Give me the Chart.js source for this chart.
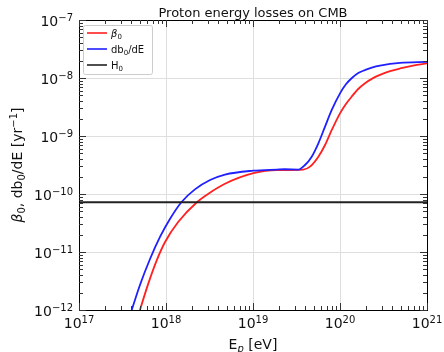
<!DOCTYPE html>
<html>
<head>
<meta charset="utf-8">
<script src="https://cdn.jsdelivr.net/npm/chart.js@4.4.1/dist/chart.umd.min.js"></script>
<style>
  html, body { margin: 0; padding: 0; background: #fff; }
  #wrap { width: 444px; height: 352px; }
</style>
</head>
<body>
<div id="wrap"><canvas id="chartLosses"></canvas></div>
<script>
// values (log-log)
const ENERGY_BETA0 = [4.29e17, 5.02e17, 6.27e17, 7.82e17, 9.75e17, 1.38e18, 2.25e18, 3.35e18, 4.76e18, 1.01e19, 1.87e19, 2.33e19, 3.78e19, 4.52e19, 5.64e19, 6.73e19, 8.04e19, 1.0e20, 1.17e20, 1.36e20, 1.62e20, 1.94e20, 2.37e20, 2.88e20, 3.76e20, 4.9e20, 6.9e20, 1.0e21];
const BETA0 = [4.52e-13, 1.0e-12, 2.88e-12, 7.19e-12, 1.49e-11, 3.29e-11, 7.13e-11, 1.10e-10, 1.50e-10, 2.28e-10, 2.59e-10, 2.59e-10, 2.64e-10, 2.96e-10, 4.4e-10, 7.0e-10, 1.27e-9, 2.46e-9, 3.56e-9, 4.76e-9, 6.46e-9, 8.11e-9, 9.84e-9, 1.13e-8, 1.31e-8, 1.46e-8, 1.64e-8, 1.79e-8];

const ENERGY_DB0 = [3.38e17, 4.04e17, 5.02e17, 6.55e17, 8.53e17, 1.11e18, 1.51e18, 2.15e18, 3.21e18, 4.76e18, 1.0e19, 1.89e19, 2.33e19, 3.32e19, 3.96e19, 4.73e19, 5.64e19, 6.73e19, 8.04e19, 1.0e20, 1.17e20, 1.36e20, 1.62e20, 1.94e20, 2.37e20, 2.88e20, 4.9e20, 1.0e21];
const DB0_DE = [4.35e-13, 1.0e-12, 2.70e-12, 7.57e-12, 1.82e-11, 3.71e-11, 7.28e-11, 1.20e-10, 1.74e-10, 2.16e-10, 2.52e-10, 2.64e-10, 2.67e-10, 2.64e-10, 3.16e-10, 4.4e-10, 7.48e-10, 1.45e-9, 2.81e-9, 5.44e-9, 7.78e-9, 9.89e-9, 1.22e-8, 1.37e-8, 1.53e-8, 1.64e-8, 1.83e-8, 1.9e-8];

const ENERGY_H0 = [1e17, 1e21];
const H0 = [7.2e-11, 7.2e-11];

const X_DECADES = [17, 18, 19, 20, 21];
const Y_DECADES = [-12, -11, -10, -9, -8, -7];

const TITLE = 'Proton energy losses on CMB';
const FONT = "'DejaVu Sans', 'Noto Sans', sans-serif";

function toPoints(xs, ys) {
  return xs.map((x, i) => ({ x, y: ys[i] }));
}

// draws text made of pieces with sub/superscripts
function drawRich(ctx, parts, x, y, size, align) {
  const pieces = parts.map((p) => {
    const s = p.sub || p.sup ? Math.round(size * 0.7) : size;
    const font = `${p.italic ? 'italic ' : ''}${s}px ${FONT}`;
    ctx.font = font;
    return {
      t: p.t,
      font,
      w: ctx.measureText(p.t).width,
      dy: p.sup ? -size * 0.37 : p.sub ? size * 0.2 : 0
    };
  });
  const total = pieces.reduce((a, p) => a + p.w, 0);
  let cx = align === 'center' ? x - total / 2 : align === 'right' ? x - total : x;
  ctx.textAlign = 'left';
  ctx.textBaseline = 'alphabetic';
  for (const p of pieces) {
    ctx.font = p.font;
    ctx.fillText(p.t, cx, y + p.dy);
    cx += p.w;
  }
}

function expLabel(n) {
  return [{ t: '10' }, { t: String(n).replace('-', '\u2212'), sup: true }];
}

const LEGEND_ITEMS = [
  { color: '#ff2020', parts: [{ t: 'β', italic: true }, { t: '0', sub: true }] },
  { color: '#2020ff', parts: [{ t: 'db' }, { t: '0', sub: true }, { t: '/dE' }] },
  { color: '#222222', parts: [{ t: 'H' }, { t: '0', sub: true }] }
];

const gridPlugin = {
  id: 'mplGrid',
  beforeDatasetsDraw(chart) {
    const { ctx, chartArea: a, scales } = chart;
    ctx.save();
    ctx.strokeStyle = '#dedede';
    ctx.lineWidth = 1;
    ctx.beginPath();
    X_DECADES.forEach((n) => {
      const px = Math.round(scales.x.getPixelForValue(Math.pow(10, n))) + 0.5;
      ctx.moveTo(px, a.top);
      ctx.lineTo(px, a.bottom);
    });
    Y_DECADES.forEach((n) => {
      const py = Math.round(scales.y.getPixelForValue(Math.pow(10, n))) + 0.5;
      ctx.moveTo(a.left, py);
      ctx.lineTo(a.right, py);
    });
    ctx.stroke();
    ctx.restore();
  },
  afterDraw(chart) {
    const { ctx, chartArea: a, scales } = chart;
    ctx.save();

    // frame
    ctx.strokeStyle = '#000';
    ctx.lineWidth = 1;
    ctx.strokeRect(Math.round(a.left) + 0.5, Math.round(a.top) + 0.5,
      Math.round(a.right - a.left), Math.round(a.bottom - a.top));

    // inward ticks on all four sides
    ctx.strokeStyle = '#333';
    ctx.beginPath();
    const xTicks = [];
    const yTicks = [];
    X_DECADES.forEach((n, i) => {
      xTicks.push({ v: Math.pow(10, n), major: true });
      if (i < X_DECADES.length - 1) {
        for (let m = 2; m <= 9; m++) xTicks.push({ v: m * Math.pow(10, n), major: false });
      }
    });
    Y_DECADES.forEach((n, i) => {
      yTicks.push({ v: Math.pow(10, n), major: true });
      if (i < Y_DECADES.length - 1) {
        for (let m = 2; m <= 9; m++) yTicks.push({ v: m * Math.pow(10, n), major: false });
      }
    });
    xTicks.forEach((t) => {
      const px = Math.round(scales.x.getPixelForValue(t.v)) + 0.5;
      const len = t.major ? 7 : 4;
      ctx.moveTo(px, a.bottom);
      ctx.lineTo(px, a.bottom - len);
      ctx.moveTo(px, a.top);
      ctx.lineTo(px, a.top + len);
    });
    yTicks.forEach((t) => {
      const py = Math.round(scales.y.getPixelForValue(t.v)) + 0.5;
      const len = t.major ? 7 : 4;
      ctx.moveTo(a.left, py);
      ctx.lineTo(a.left + len, py);
      ctx.moveTo(a.right, py);
      ctx.lineTo(a.right - len, py);
    });
    ctx.stroke();

    // tick labels
    ctx.fillStyle = '#111';
    X_DECADES.forEach((n) => {
      const px = scales.x.getPixelForValue(Math.pow(10, n));
      drawRich(ctx, expLabel(n), px, a.bottom + 18, 14, 'center');
    });
    Y_DECADES.forEach((n) => {
      const py = scales.y.getPixelForValue(Math.pow(10, n));
      drawRich(ctx, expLabel(n), a.left - 6, py + 6, 14, 'right');
    });

    // axis titles
    drawRich(ctx, [{ t: 'E' }, { t: 'p', sub: true, italic: true }, { t: ' [eV]' }],
      (a.left + a.right) / 2, 349, 14, 'center');

    ctx.save();
    ctx.translate(22, (a.top + a.bottom) / 2);
    ctx.rotate(-Math.PI / 2);
    drawRich(ctx, [
      { t: 'β', italic: true }, { t: '0', sub: true }, { t: ', db' }, { t: '0', sub: true },
      { t: '/dE [yr' }, { t: '\u22121', sup: true }, { t: ']' }
    ], 0, 0, 14, 'center');
    ctx.restore();

    // title
    ctx.font = `13px ${FONT}`;
    ctx.textAlign = 'center';
    ctx.textBaseline = 'alphabetic';
    ctx.fillText(TITLE, (a.left + a.right) / 2, 16.5);

    // legend box
    const lx = a.left + 4;
    const ly = a.top + 5;
    ctx.fillStyle = 'rgba(255,255,255,0.85)';
    ctx.strokeStyle = '#cccccc';
    ctx.beginPath();
    ctx.roundRect(lx + 0.5, ly + 0.5, 69, 49, 2);
    ctx.fill();
    ctx.stroke();
    LEGEND_ITEMS.forEach((item, i) => {
      const ry = ly + 8 + i * 16;
      ctx.strokeStyle = item.color;
      ctx.lineWidth = 1.6;
      ctx.beginPath();
      ctx.moveTo(lx + 4, ry);
      ctx.lineTo(lx + 24, ry);
      ctx.stroke();
      ctx.fillStyle = '#111';
      drawRich(ctx, item.parts, lx + 28, ry + 4, 10, 'left');
    });

    ctx.restore();
  }
};

const chart = new Chart(document.getElementById('chartLosses'), {
  type: 'line',
  data: {
    datasets: [
      {
        label: 'β0',
        data: toPoints(ENERGY_BETA0, BETA0),
        borderColor: '#ff2020',
        order: 3
      },
      {
        label: 'db0/dE',
        data: toPoints(ENERGY_DB0, DB0_DE),
        borderColor: '#2020ff',
        order: 2
      },
      {
        label: 'H0',
        data: toPoints(ENERGY_H0, H0),
        borderColor: '#222222',
        order: 1
      }
    ]
  },
  options: {
    responsive: true,
    maintainAspectRatio: false,
    animation: false,
    layout: { padding: { top: 20, right: 17, left: 0, bottom: 0 } },
    elements: {
      line: { borderWidth: 1.8, cubicInterpolationMode: 'monotone', fill: false },
      point: { radius: 0, hoverRadius: 0 }
    },
    plugins: {
      legend: { display: false },
      title: { display: false },
      tooltip: { enabled: false }
    },
    events: [],
    scales: {
      x: {
        type: 'logarithmic',
        min: 1e17,
        max: 1e21,
        ticks: { display: false },
        grid: { display: false },
        border: { display: false },
        afterFit: (scale) => { scale.height = 42; }
      },
      y: {
        type: 'logarithmic',
        min: 1e-12,
        max: 1e-7,
        ticks: { display: false },
        grid: { display: false },
        border: { display: false },
        afterFit: (scale) => { scale.width = 79; }
      }
    }
  },
  plugins: [gridPlugin]
});
</script>
</body>
</html>
